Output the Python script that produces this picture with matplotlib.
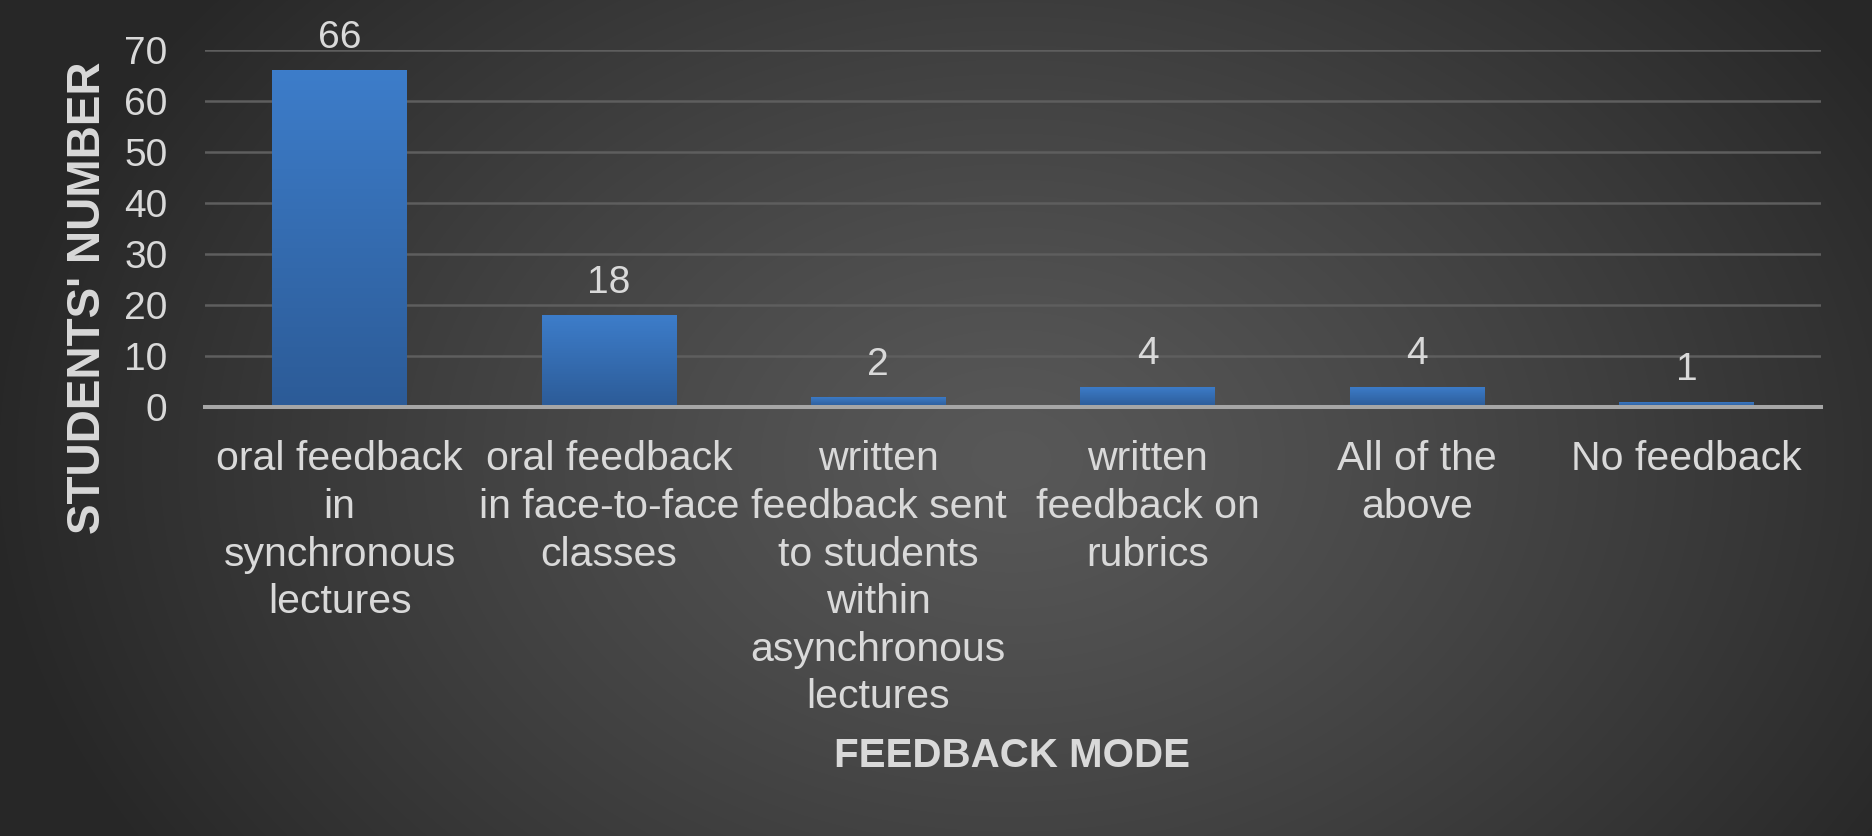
import matplotlib
matplotlib.use("Agg")
import matplotlib.pyplot as plt
import numpy as np

plt.rcParams['font.family'] = ['Liberation Sans', 'DejaVu Sans']

categories = ["oral feedback\nin\nsynchronous\nlectures",
              "oral feedback\nin face-to-face\nclasses",
              "written\nfeedback sent\nto students\nwithin\nasynchronous\nlectures",
              "written\nfeedback on\nrubrics",
              "All of the\nabove",
              "No feedback"]
students = [66, 18, 2, 4, 4, 1]
yticks = [0, 10, 20, 30, 40, 50, 60, 70]

W, H = 1872, 836
fig = plt.figure(figsize=(W / 100, H / 100), dpi=100)

# radial grey background
bg = fig.add_axes([0, 0, 1, 1], zorder=0)
yy, xx = np.mgrid[0:H, 0:W]
r = np.sqrt(((xx - 0.54 * W) / (0.55 * W)) ** 2 + ((yy - 0.55 * H) / (0.9 * H)) ** 2)
r = np.clip(r, 0, 1) ** 1.2
shade = (88 - 49 * r) / 255.0
bg.imshow(np.dstack([shade, shade, shade]), aspect='auto', extent=(0, 1, 0, 1))
bg.axis('off')

ax = fig.add_axes([205 / W, 1 - 407 / H, (1821 - 205) / W, (407 - 50) / H], zorder=1)
ax.set_facecolor('none')
x = np.arange(len(categories))
bars = ax.bar(x, students, width=0.5, color='none', zorder=3)

# vertical gradient inside each bar
grad = np.linspace(0, 1, 256).reshape(-1, 1)
top = np.array([0x3d, 0x7d, 0xca]) / 255.0
bot = np.array([0x2c, 0x5b, 0x97]) / 255.0
img = bot + (top - bot) * grad[..., None]
for b in bars:
    bx, by = b.get_x(), b.get_y()
    im = ax.imshow(img, aspect='auto', origin='lower',
                   extent=(bx, bx + b.get_width(), by, by + b.get_height()), zorder=3)
    im.set_clip_path(b)

for xi, v in zip(x, students):
    ax.annotate(str(v), (xi, v), xytext=(0, 16), textcoords='offset points',
                ha='center', va='baseline', fontsize=28, color='#d9d9d9',
                annotation_clip=False)

ax.set_xlim(-0.5, len(categories) - 0.5)
ax.set_ylim(0, 70)
ax.set_yticks(yticks)
ax.set_xticks(x)
ax.set_xticklabels(categories, fontsize=29.5, color='#d9d9d9', linespacing=1.32)
ax.tick_params(axis='y', length=0, pad=27, labelsize=28, labelcolor='#d9d9d9')
ax.tick_params(axis='x', length=0, pad=24)
ax.yaxis.grid(True, color='#5e5e5e', linewidth=1.8, zorder=0)
ax.set_axisbelow(True)
for s in ['top', 'right', 'left']:
    ax.spines[s].set_visible(False)
ax.spines['bottom'].set_color('#a6a6a6')
ax.spines['bottom'].set_linewidth(2.9)
ax.spines['bottom'].set_zorder(4)

fig.text(88 / W, 1 - 298 / H, "STUDENTS' NUMBER", rotation=90, ha='center', va='center',
         fontsize=33, fontweight='bold', color='#d9d9d9')
fig.text(1012 / W, 1 - 756 / H, "FEEDBACK MODE", ha='center', va='center',
         fontsize=29, fontweight='bold', color='#d9d9d9')

fig.savefig('out.png', dpi=100)
